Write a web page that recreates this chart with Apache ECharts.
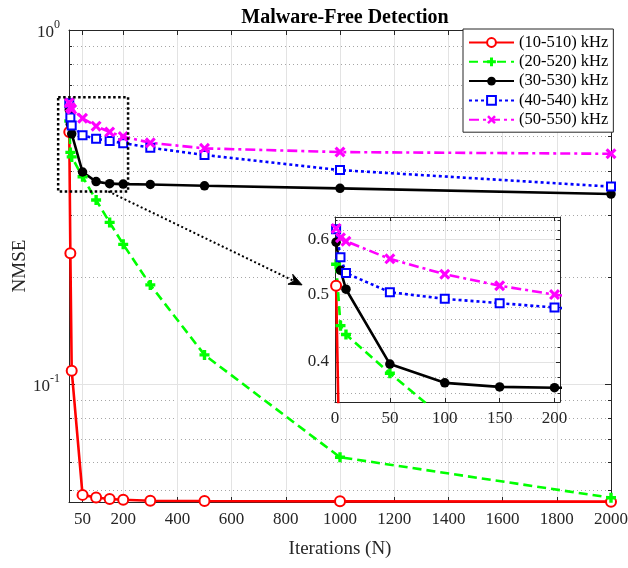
<!DOCTYPE html>
<html>
<head>
<meta charset="utf-8">
<script src="https://cdn.jsdelivr.net/npm/echarts@6/dist/echarts.min.js"></script>
<style>
  html, body { margin: 0; padding: 0; background: #fff; }
  #chart { width: 628px; height: 568px; }
</style>
</head>
<body>
<div id="chart"></div>
<script>
// Iteration counts at which the NMSE was evaluated
const iterations = [1, 5, 10, 50, 100, 150, 200, 300, 500, 1000, 2000];

// NMSE per frequency band
const band10to510 = [0.515, 0.234, 0.109, 0.0486, 0.0478, 0.0473, 0.0471, 0.0468, 0.0467, 0.0466, 0.0465];
const band20to520 = [0.553, 0.451, 0.438, 0.385, 0.331, 0.286, 0.248, 0.1905, 0.1208, 0.0621, 0.0477];
const band30to530 = [0.595, 0.542, 0.509, 0.397, 0.373, 0.368, 0.367, 0.366, 0.363, 0.357, 0.344];
const band40to540 = [0.621, 0.566, 0.537, 0.504, 0.493, 0.486, 0.479, 0.465, 0.4435, 0.402, 0.361];
const band50to550 = [0.623, 0.604, 0.597, 0.563, 0.535, 0.515, 0.500, 0.480, 0.463, 0.452, 0.447];

const seriesNames = ['(10-510) kHz', '(20-520) kHz', '(30-530) kHz', '(40-540) kHz', '(50-550) kHz'];

// Tick values
const xTicks = [50, 200, 400, 600, 800, 1000, 1200, 1400, 1600, 1800, 2000];
const yMajorTicks = [0.1, 1];
const yMinorTicks = [0.05, 0.06, 0.07, 0.08, 0.09, 0.2, 0.3, 0.4, 0.5, 0.6, 0.7, 0.8, 0.9];
const insetXTicks = [0, 50, 100, 150, 200];
const insetYTicks = [0.4, 0.5, 0.6];
const insetYMinorTicks = [0.36, 0.38, 0.42, 0.44, 0.46, 0.48, 0.52, 0.54, 0.56, 0.58, 0.62, 0.64];

const SERIF = 'Liberation Serif, Times New Roman, serif';
const AXIS_COLOR = '#262626';
const GRID_COLOR = '#e3e3e3';
const MINOR_COLOR = '#a6a6a6';

const plusPath = 'path://M3.3,0H6.7V3.3H10V6.7H6.7V10H3.3V6.7H0V3.3H3.3Z';
const crossPath = 'path://M0,2L2,0L5,3L8,0L10,2L7,5L10,8L8,10L5,7L2,10L0,8L3,5Z';

const styles = [
  { values: band10to510, color: '#ff0000', symbol: 'emptyCircle', size: 10, dash: 'solid', border: 2.2 },
  { values: band20to520, color: '#00ff00', symbol: plusPath, size: 10, dash: [9, 5], border: 0 },
  { values: band30to530, color: '#000000', symbol: 'circle', size: 9.5, dash: 'solid', border: 0 },
  { values: band40to540, color: '#0000ff', symbol: 'emptyRect', size: 8, dash: [3, 3], border: 3.2 },
  { values: band50to550, color: '#ff00ff', symbol: crossPath, size: 11, dash: [10, 4, 3, 4], border: 0 }
];

function makeSeries(xi, yi, z) {
  return styles.map((s, k) => ({
    name: seriesNames[k],
    type: 'line',
    xAxisIndex: xi,
    yAxisIndex: yi,
    z: z,
    clip: true,
    data: iterations.map((n, i) => [n, s.values[i]]),
    symbol: s.symbol,
    symbolSize: s.size,
    showAllSymbol: true,
    lineStyle: { color: s.color, width: 2.6, type: s.dash },
    itemStyle: { color: s.color, borderColor: s.color, borderWidth: s.border },
    emphasis: { disabled: true },
    animation: false
  }));
}

function tickOnlyAxis(base, values, len, showLine) {
  return Object.assign({
    axisLine: { show: showLine, onZero: false, lineStyle: { color: AXIS_COLOR, width: 1 } },
    axisTick: { show: true, inside: true, length: len, customValues: values, lineStyle: { color: AXIS_COLOR } },
    axisLabel: { show: false },
    splitLine: { show: false }
  }, base);
}

const powLabel = {
  fontFamily: SERIF, color: AXIS_COLOR,
  rich: {
    b: { fontFamily: SERIF, fontSize: 17, color: AXIS_COLOR, lineHeight: 22, verticalAlign: 'bottom' },
    e: { fontFamily: SERIF, fontSize: 12, color: AXIS_COLOR, lineHeight: 12, verticalAlign: 'top' }
  }
};

const plainNumber = function (v) { return String(v); };

const chart = echarts.init(document.getElementById('chart'), null, { renderer: 'canvas' });

const option = {
  animation: false,
  backgroundColor: '#fff',
  title: {
    text: 'Malware-Free Detection',
    left: 340, top: 3, textAlign: 'center',
    textStyle: { fontFamily: SERIF, fontSize: 20, fontWeight: 'bold', color: '#000' }
  },
  legend: {
    orient: 'vertical',
    left: 463, top: 29,
    padding: [4, 5, 3, 5],
    itemWidth: 45, itemHeight: 11, itemGap: 0.3,
    backgroundColor: '#fff',
    borderColor: AXIS_COLOR, borderWidth: 1,
    data: seriesNames,
    selectedMode: false,
    textStyle: { fontFamily: SERIF, fontSize: 16.5, color: '#000', lineHeight: 19 }
  },
  grid: [
    { left: 69, top: 30, width: 542, height: 472, show: false, outerBoundsMode: 'none', containLabel: false },
    { left: 335, top: 217, width: 225, height: 185, show: true, backgroundColor: '#fff', borderWidth: 0, z: 10,
      outerBoundsMode: 'none', containLabel: false }
  ],
  xAxis: [
    {
      gridIndex: 0, type: 'value', position: 'bottom', min: 0, max: 2000,
      name: 'Iterations (N)', nameLocation: 'middle', nameGap: 38, nameMoveOverlap: false,
      nameTextStyle: { fontFamily: SERIF, fontSize: 19, color: AXIS_COLOR },
      axisLine: { show: true, onZero: false, lineStyle: { color: AXIS_COLOR, width: 1 } },
      axisTick: { show: true, inside: true, length: 5, customValues: xTicks, lineStyle: { color: AXIS_COLOR } },
      axisLabel: { customValues: xTicks, formatter: plainNumber, fontFamily: SERIF, fontSize: 17, color: AXIS_COLOR, margin: 9 },
      splitLine: { show: true, lineStyle: { color: GRID_COLOR, width: 1 } }
    },
    tickOnlyAxis({ gridIndex: 0, type: 'value', position: 'top', min: 0, max: 2000 }, xTicks, 5, true),
    {
      gridIndex: 1, type: 'value', position: 'bottom', min: 0, max: 205, interval: 50, z: 11,
      axisLine: { show: true, onZero: false, lineStyle: { color: AXIS_COLOR, width: 1 } },
      axisTick: { show: true, inside: true, length: 4, customValues: insetXTicks, lineStyle: { color: AXIS_COLOR } },
      axisLabel: { customValues: insetXTicks, formatter: plainNumber, fontFamily: SERIF, fontSize: 17, color: AXIS_COLOR, margin: 8 },
      splitLine: { show: true, lineStyle: { color: GRID_COLOR, width: 1 } }
    },
    tickOnlyAxis({ gridIndex: 1, type: 'value', position: 'top', min: 0, max: 205, interval: 50, z: 11 }, insetXTicks, 4, true)
  ],
  yAxis: [
    {
      gridIndex: 0, type: 'log', logBase: 10, position: 'left', min: 0.0464, max: 1,
      name: 'NMSE', nameLocation: 'middle', nameGap: 39, nameRotate: 90, nameMoveOverlap: false,
      nameTextStyle: { fontFamily: SERIF, fontSize: 19, color: AXIS_COLOR },
      axisLine: { show: true, onZero: false, lineStyle: { color: AXIS_COLOR, width: 1 } },
      axisTick: { show: true, inside: true, length: 6, customValues: yMajorTicks, lineStyle: { color: AXIS_COLOR } },
      axisLabel: Object.assign({
        customValues: yMajorTicks, margin: 9,
        formatter: function (v) {
          const e = Math.round(Math.log10(v));
          return '{b|10}{e|' + (e === 0 ? '0' : String(e)) + '}';
        }
      }, powLabel),
      splitLine: { show: true, lineStyle: { color: GRID_COLOR, width: 1 } }
    },
    Object.assign(tickOnlyAxis({ gridIndex: 0, type: 'log', logBase: 10, position: 'left', min: 0.0464, max: 1 }, yMinorTicks, 3, false),
      { splitLine: { show: true, lineStyle: { color: MINOR_COLOR, width: 1, type: [1, 3] } } }),
    tickOnlyAxis({ gridIndex: 0, type: 'log', logBase: 10, position: 'right', min: 0.0464, max: 1 }, yMajorTicks, 6, true),
    tickOnlyAxis({ gridIndex: 0, type: 'log', logBase: 10, position: 'right', min: 0.0464, max: 1 }, yMinorTicks, 3, false),
    {
      gridIndex: 1, type: 'log', logBase: 10, position: 'left', min: 0.35, max: 0.647, z: 11,
      axisLine: { show: true, onZero: false, lineStyle: { color: AXIS_COLOR, width: 1 } },
      axisTick: { show: true, inside: true, length: 4, customValues: insetYTicks, lineStyle: { color: AXIS_COLOR } },
      axisLabel: { customValues: insetYTicks, fontFamily: SERIF, fontSize: 17, color: AXIS_COLOR, margin: 6,
        formatter: function (v) { return v.toFixed(1); } },
      splitLine: { show: true, lineStyle: { color: GRID_COLOR, width: 1 } }
    },
    Object.assign(tickOnlyAxis({ gridIndex: 1, type: 'log', logBase: 10, position: 'left', min: 0.35, max: 0.647, z: 11 }, insetYMinorTicks, 2.5, false),
      { splitLine: { show: true, lineStyle: { color: MINOR_COLOR, width: 1, type: [1, 3] } } }),
    tickOnlyAxis({ gridIndex: 1, type: 'log', logBase: 10, position: 'right', min: 0.35, max: 0.647, z: 11 }, insetYTicks, 4, true),
    tickOnlyAxis({ gridIndex: 1, type: 'log', logBase: 10, position: 'right', min: 0.35, max: 0.647, z: 11 }, insetYMinorTicks, 2.5, false)
  ],
  series: makeSeries(0, 0, 2).concat(makeSeries(2, 4, 12))
};

chart.setOption(option);

// Zoom-region frame on the main axes and the arrow pointing to the inset
const zoomBox = { x: [-40, 218], y: [0.35, 0.646] };
const arrowFrom = [145, 0.35];
const arrowTo = [860, 0.1905];
const finder = { xAxisIndex: 0, yAxisIndex: 0 };
const p0 = chart.convertToPixel(finder, [zoomBox.x[0], zoomBox.y[1]]);
const p1 = chart.convertToPixel(finder, [zoomBox.x[1], zoomBox.y[0]]);
const a0 = chart.convertToPixel(finder, arrowFrom);
const a1 = chart.convertToPixel(finder, arrowTo);
const ang = Math.atan2(a1[1] - a0[1], a1[0] - a0[0]);
const headLen = 13, headHalf = 5.5, notch = 9;
const ux = Math.cos(ang), uy = Math.sin(ang);
const head = [
  [a1[0], a1[1]],
  [a1[0] - headLen * ux - headHalf * uy, a1[1] - headLen * uy + headHalf * ux],
  [a1[0] - notch * ux, a1[1] - notch * uy],
  [a1[0] - headLen * ux + headHalf * uy, a1[1] - headLen * uy - headHalf * ux]
];

chart.setOption({
  graphic: [
    {
      type: 'rect', z: 5, silent: true,
      shape: { x: p0[0], y: p0[1], width: p1[0] - p0[0], height: p1[1] - p0[1] },
      style: { fill: 'none', stroke: '#000', lineWidth: 2.5, lineDash: [2.5, 2.5] }
    },
    {
      type: 'line', z: 5, silent: true,
      shape: { x1: a0[0], y1: a0[1], x2: a1[0] - notch * ux, y2: a1[1] - notch * uy },
      style: { stroke: '#000', lineWidth: 2, lineDash: [2, 2.5] }
    },
    {
      type: 'polygon', z: 5, silent: true,
      shape: { points: head },
      style: { fill: '#000', stroke: '#000', lineWidth: 1 }
    }
  ]
});
</script>
</body>
</html>
